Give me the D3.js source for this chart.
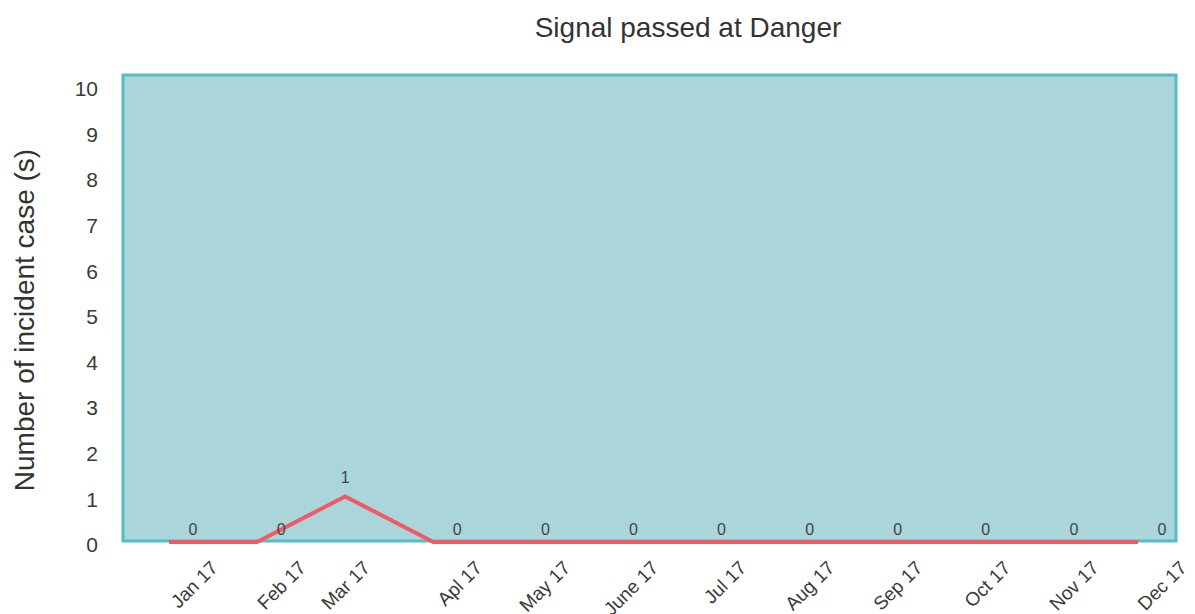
<!DOCTYPE html>
<html>
<head>
<meta charset="utf-8">
<script src="https://cdn.jsdelivr.net/npm/d3@7"></script>
<style>
  body { margin: 0; background: #fff; }
  svg text { font-family: "Liberation Sans", Arial, sans-serif; font-weight: normal; }
</style>
</head>
<body>
<svg id="chart" width="1195" height="614"></svg>
<script>
// Monthly counts of "signal passed at danger" incidents, 2017
const months = ["Jan 17", "Feb 17", "Mar 17", "Apl 17", "May 17", "June 17",
                "Jul 17", "Aug 17", "Sep 17", "Oct 17", "Nov 17", "Dec 17"];
const incidents = [0, 0, 1, 0, 0, 0, 0, 0, 0, 0, 0, 0];
const yTicks = [0, 1, 2, 3, 4, 5, 6, 7, 8, 9, 10];

const title = "Signal passed at Danger";
const yTitle = "Number of incident case (s)";

const svg = d3.select("#chart");

const frame = { left: 123, right: 1176, top: 75, bottom: 541 };

const x = d3.scalePoint().domain(months).range([169, 1138]);
const y = d3.scaleLinear().domain([0, 10]).range([542, 86]);

// plot background panel
svg.append("rect")
  .attr("x", frame.left)
  .attr("y", frame.top)
  .attr("width", frame.right - frame.left)
  .attr("height", frame.bottom - frame.top)
  .attr("fill", "#aad5db")
  .attr("stroke", "#56bcc4")
  .attr("stroke-width", 3);

// title
svg.append("text")
  .attr("x", 688).attr("y", 37)
  .attr("text-anchor", "middle")
  .attr("font-size", 28)
  .attr("fill", "#333")
  .text(title);

// y axis title
svg.append("text")
  .attr("transform", "translate(34,320) rotate(-90)")
  .attr("text-anchor", "middle")
  .attr("font-size", 28)
  .attr("fill", "#333")
  .text(yTitle);

// y axis (labels only)
const yAxis = d3.axisLeft(y).tickValues(yTicks).tickSize(0).tickPadding(0).tickFormat(d3.format("d"));
const gy = svg.append("g").attr("transform", "translate(98,3)").call(yAxis);
gy.select(".domain").remove();
gy.selectAll("text")
  .attr("font-size", 21)
  .attr("fill", "#3a3a3a")
  .attr("font-family", null);

// label anchor: zero months sit to the right of the point, the peak is centred
const labelX = (d, i) => x(months[i]) + (d > 0 ? 0 : 24);

// x category labels, rotated
svg.append("g").selectAll("text")
  .data(incidents)
  .join("text")
  .attr("transform", (d, i) => `translate(${labelX(d, i) + 26},${569}) rotate(-45)`)
  .attr("text-anchor", "end")
  .attr("font-size", 19)
  .attr("fill", "#3a3a3a")
  .text((d, i) => months[i]);

// incident line
const line = d3.line()
  .x((d, i) => x(months[i]))
  .y(d => y(d));

svg.append("path")
  .datum(incidents)
  .attr("d", line)
  .attr("fill", "none")
  .attr("stroke", "#f05a64")
  .attr("stroke-width", 4)
  .attr("stroke-linejoin", "miter");

// value labels
svg.append("g").selectAll("text")
  .data(incidents)
  .join("text")
  .attr("x", labelX)
  .attr("y", d => y(d) - 7 - (d > 0 ? 6 : 0))
  .attr("text-anchor", "middle")
  .attr("font-size", 16)
  .attr("fill", "#444")
  .text(d => d);
</script>
</body>
</html>
